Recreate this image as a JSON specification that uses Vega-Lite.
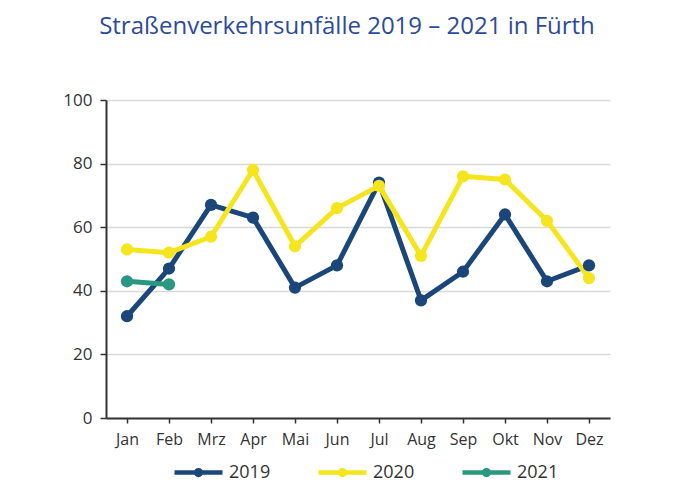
{
  "$schema": "https://vega.github.io/schema/vega-lite/v6.json",
  "width": 504,
  "height": 318,
  "autosize": {"type": "none"},
  "padding": {"left": 106, "top": 100, "right": 83, "bottom": 81},
  "background": "white",
  "title": {
    "text": "Straßenverkehrsunfälle 2019 – 2021 in Fürth",
    "font": "Open Sans",
    "fontSize": 24,
    "fontWeight": "normal",
    "color": "#2D4B9A",
    "anchor": "middle",
    "frame": "group",
    "dx": -11,
    "offset": 52
  },
  "data": {
    "values": [
      {"Monat": "Jan", "Jahr": "2019", "Unfälle": 32},
      {"Monat": "Feb", "Jahr": "2019", "Unfälle": 47},
      {"Monat": "Mrz", "Jahr": "2019", "Unfälle": 67},
      {"Monat": "Apr", "Jahr": "2019", "Unfälle": 63},
      {"Monat": "Mai", "Jahr": "2019", "Unfälle": 41},
      {"Monat": "Jun", "Jahr": "2019", "Unfälle": 48},
      {"Monat": "Jul", "Jahr": "2019", "Unfälle": 74},
      {"Monat": "Aug", "Jahr": "2019", "Unfälle": 37},
      {"Monat": "Sep", "Jahr": "2019", "Unfälle": 46},
      {"Monat": "Okt", "Jahr": "2019", "Unfälle": 64},
      {"Monat": "Nov", "Jahr": "2019", "Unfälle": 43},
      {"Monat": "Dez", "Jahr": "2019", "Unfälle": 48},
      {"Monat": "Jan", "Jahr": "2020", "Unfälle": 53},
      {"Monat": "Feb", "Jahr": "2020", "Unfälle": 52},
      {"Monat": "Mrz", "Jahr": "2020", "Unfälle": 57},
      {"Monat": "Apr", "Jahr": "2020", "Unfälle": 78},
      {"Monat": "Mai", "Jahr": "2020", "Unfälle": 54},
      {"Monat": "Jun", "Jahr": "2020", "Unfälle": 66},
      {"Monat": "Jul", "Jahr": "2020", "Unfälle": 73},
      {"Monat": "Aug", "Jahr": "2020", "Unfälle": 51},
      {"Monat": "Sep", "Jahr": "2020", "Unfälle": 76},
      {"Monat": "Okt", "Jahr": "2020", "Unfälle": 75},
      {"Monat": "Nov", "Jahr": "2020", "Unfälle": 62},
      {"Monat": "Dez", "Jahr": "2020", "Unfälle": 44},
      {"Monat": "Jan", "Jahr": "2021", "Unfälle": 43},
      {"Monat": "Feb", "Jahr": "2021", "Unfälle": 42}
    ]
  },
  "mark": {
    "type": "line",
    "strokeWidth": 5,
    "strokeJoin": "round",
    "point": {"filled": true, "size": 150, "opacity": 1}
  },
  "encoding": {
    "x": {
      "field": "Monat",
      "type": "ordinal",
      "sort": ["Jan", "Feb", "Mrz", "Apr", "Mai", "Jun", "Jul", "Aug", "Sep", "Okt", "Nov", "Dez"],
      "axis": {
        "title": null,
        "labelAngle": 0,
        "labelFont": "Open Sans",
        "labelFontSize": 16,
        "labelColor": "#333333",
        "labelPadding": 8,
        "domainColor": "#333333",
        "domainWidth": 2,
        "tickColor": "#333333",
        "tickWidth": 1.5,
        "tickSize": 5,
        "grid": false
      }
    },
    "y": {
      "field": "Unfälle",
      "type": "quantitative",
      "scale": {"domain": [0, 100], "nice": false},
      "axis": {
        "title": null,
        "values": [0, 20, 40, 60, 80, 100],
        "labelFont": "Open Sans",
        "labelFontSize": 17,
        "labelColor": "#333333",
        "labelPadding": 8,
        "domainColor": "#333333",
        "domainWidth": 2,
        "tickColor": "#333333",
        "tickWidth": 1.5,
        "tickSize": 6,
        "grid": true,
        "gridColor": "#D9D9D9",
        "gridWidth": 1.5
      }
    },
    "color": {
      "field": "Jahr",
      "type": "nominal",
      "scale": {
        "domain": ["2019", "2020", "2021"],
        "range": ["#1A4679", "#F5E51E", "#2A9780"]
      },
      "legend": {
        "title": null,
        "orient": "none",
        "direction": "horizontal",
        "legendX": 66,
        "legendY": 346,
        "padding": 0,
        "symbolType": "M-1,0H1M0,-0.1A0.1,0.1,0,1,1,0,0.1A0.1,0.1,0,1,1,0,-0.1Z",
        "symbolSize": 2304,
        "symbolStrokeWidth": 4.5,
        "symbolOpacity": 1,
        "labelFont": "Open Sans",
        "labelFontSize": 18,
        "labelColor": "#333333",
        "labelOffset": 4,
        "columnPadding": 38
      }
    }
  },
  "config": {
    "view": {"stroke": null}
  }
}
